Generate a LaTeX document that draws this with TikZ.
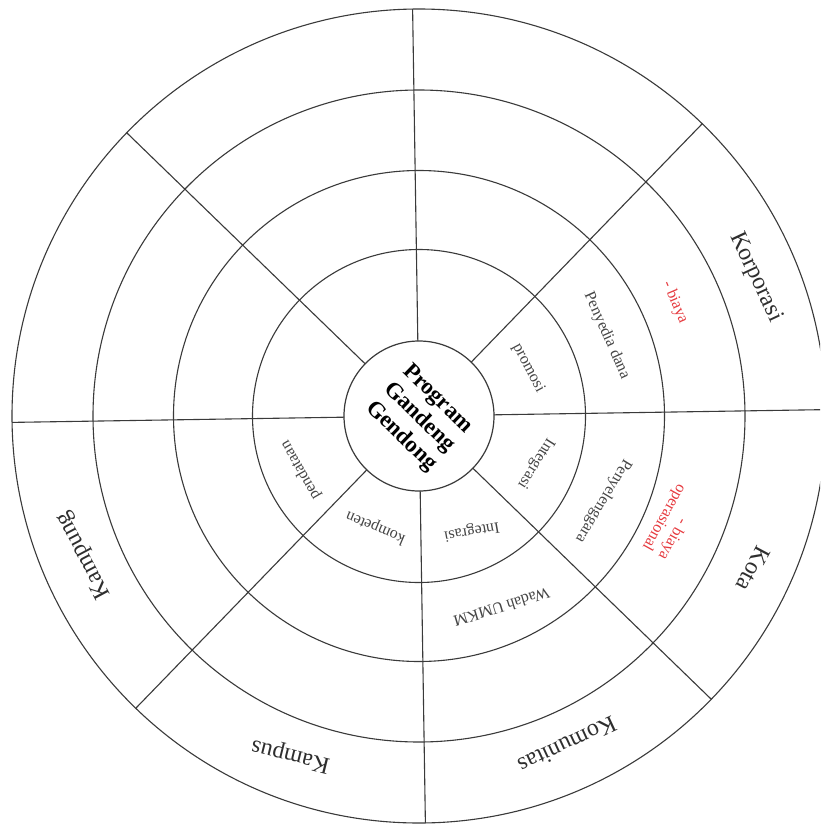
\documentclass[tikz,border=0pt]{standalone}
\usepackage{fontspec}
\setmainfont{Liberation Serif}
\definecolor{linec}{HTML}{3A3A3A}
\definecolor{txtc}{HTML}{454545}
\definecolor{bigc}{HTML}{2E2E2E}
\definecolor{redc}{HTML}{E63A3F}
\begin{document}
\begin{tikzpicture}[x=1pt,y=-1pt,
  ringc/.style={circle, draw=linec, line width=1.1pt, inner sep=0pt, outer sep=0pt},
  spoke/.style={draw=linec, line width=1.1pt},
  small/.style={text=txtc, font=\fontsize{16}{18}\selectfont, inner sep=0pt},
  big/.style={text=bigc, font=\fontsize{24}{27}\selectfont, inner sep=0pt},
  redlabel/.style={small, text=redc, align=right},
  hubtext/.style={text=black, font=\bfseries\fontsize{23}{26}\selectfont, align=center, inner sep=0pt}
]
\useasboundingbox (0,0) rectangle (820,825);
\clip (0,0) rectangle (820,825);
\fill[white] (0,0) rectangle (820,825);
% rings
\node[ringc, minimum size=814pt] (r5) at (419,416) {};
\node[ringc, minimum size=652pt] (r4) at (419,416) {};
\node[ringc, minimum size=491pt] (r3) at (419,416) {};
\node[ringc, minimum size=333pt] (r2) at (419,416) {};
\node[ringc, minimum size=150pt, line width=1.2pt] (hub) at (419,416) {};
% spokes (whole figure turned by about 0.9 degrees)
\foreach \a in {0,45,...,315}{
  \coordinate (s\a) at ([shift={(hub.center)}] \a+0.9:75pt);
  \coordinate (e\a) at ([shift={(hub.center)}] \a+0.9:407pt);
  \draw[spoke] (s\a) -- (e\a);
}
% centre text
\node[hubtext, rotate=-44] (title) at (419,418) {Program\\Gandeng\\Gendong};
% sector labels
\node[small, rotate=-62] (promosi) at (528.3,368.3) {promosi};
\node[small, rotate=-66] (dana) at (606.7,335.7) {Penyedia dana};
\node[redlabel, rotate=-67] (biaya1) at (675,302.3) {- biaya};
\node[big, rotate=-65] (korporasi) at (755.7,277.3) {Korporasi};
\node[small, rotate=-122] (integrasiE) at (535.7,463.3) {Integrasi};
\node[small, rotate=-121] (penyelenggara) at (603.3,500.7) {Penyelenggara};
\node[redlabel, rotate=-119] (biaya2) at (671.7,521.7) {- biaya\\operasional};
\node[big, rotate=-118] (kota) at (753.3,569) {Kota};
\node[big, rotate=-155] (komunitas) at (567.3,745) {Komunitas};
\node[big, rotate=166] (kampus) at (290.7,755) {Kampus};
\node[big, rotate=118] (kampung) at (84,555) {Kampung};
\node[small, rotate=120] (pendataan) at (300.7,470) {pendataan};
\node[small, rotate=157] (kompeten) at (375.7,527.3) {kompeten};
\node[small, rotate=-170] (integrasiS) at (471.7,530.7) {Integrasi};
\node[small, rotate=-163] (wadah) at (501.7,607.3) {Wadah UMKM};
\end{tikzpicture}
\end{document}
